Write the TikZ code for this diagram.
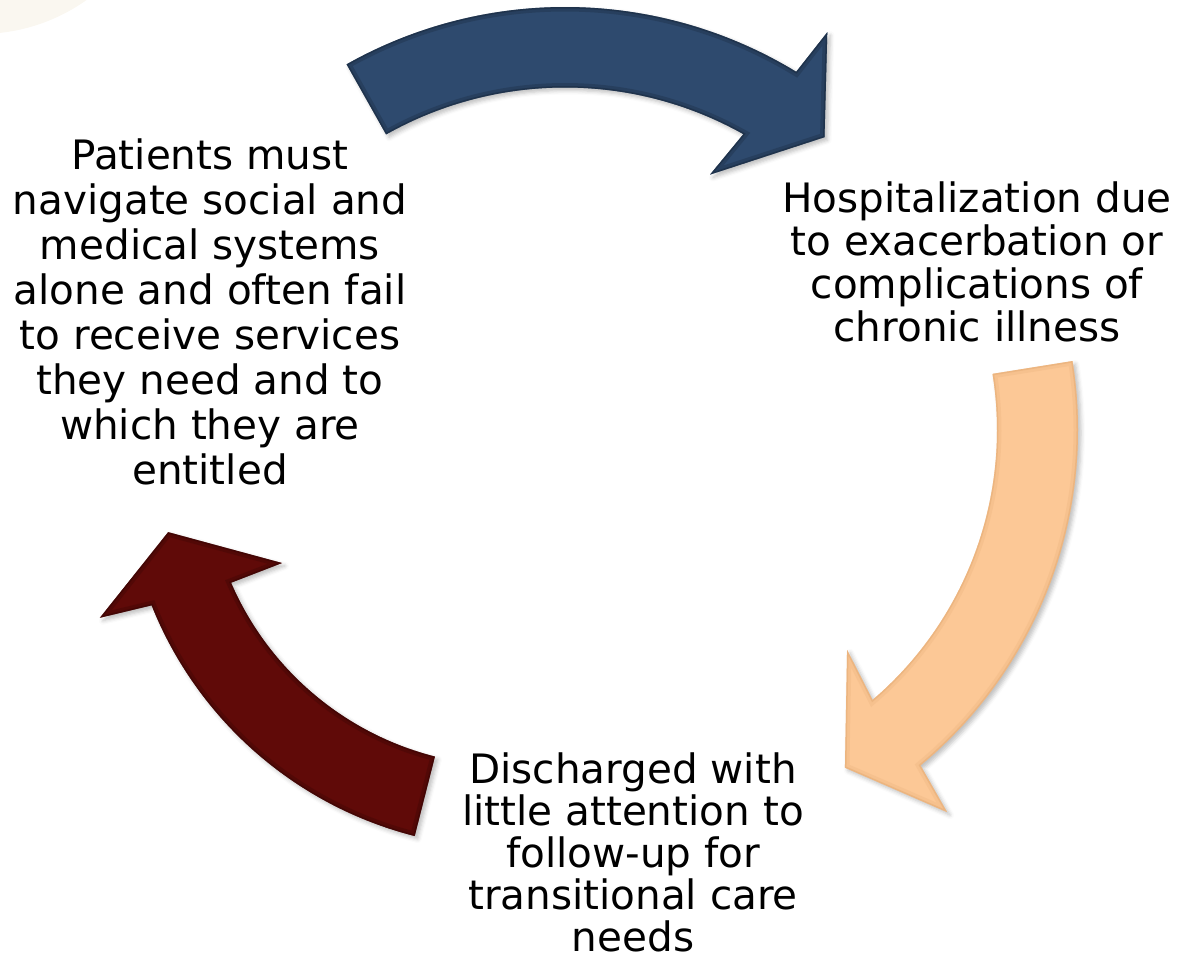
\documentclass[tikz,border=0pt]{standalone}
\usepackage{fontspec}
\setmainfont{DejaVu Sans}
\usetikzlibrary{calc,shadows.blur}

\definecolor{cycblue}{RGB}{46,74,110}
\definecolor{cycpeach}{RGB}{252,200,150}
\definecolor{cycmaroon}{RGB}{96,10,8}
\definecolor{halo}{RGB}{250,247,240}

\begin{document}
\begin{tikzpicture}[x=1pt,y=1pt,
  % anchor=base of a multi-line caption sits on its last line
  caption/.style={align=center, inner sep=0pt, anchor=base,
    font=\fontsize{40.5}{#1}\selectfont},
  caption/.default=43.5,
  arrowshadow/.style={blur shadow={shadow xshift=3pt, shadow yshift=-3pt,
    shadow blur radius=4pt, shadow opacity=25}},
  rim/.style={line width=9pt, opacity=0.35},
  rimthin/.style={line width=3pt, opacity=0.45}]
\useasboundingbox (0,0) rectangle (1180,965);

% faint disc in the corner
\fill[halo] (-20,1115) circle (184);

% ---- centres of the three arcs
\coordinate (cb) at (565,513);
\coordinate (cp) at (642,535);
\coordinate (cm) at (510,503);

% ---- top arrow (blue)
\coordinate (bTo) at ($(cb)+(119.4:445)$);
\coordinate (bBo) at ($(cb)+(58.0:495)$);
\coordinate (bTip) at ($(cb)+(50.5:408)$);
\coordinate (bBi) at ($(cb)+(62.4:313)$);
\coordinate (bJi) at ($(cb)+(60.7:364.5)$);
\def\bluepath{(bTo) arc[start angle=119.4, end angle=58.7, radius=445]
  -- (bBo) -- (bTip) -- (bBi) -- (bJi)
  arc[start angle=60.7, end angle=119.4, radius=364.5] -- cycle}

% ---- right arrow (peach)
\coordinate (pTo) at ($(cp)+(9.1:436)$);
\coordinate (pBo) at ($(cp)+(-51.4:489)$);
\coordinate (pTip) at ($(cp)+(-59:394)$);
\coordinate (pBi) at ($(cp)+(-47.0:300.7)$);
\coordinate (pJi) at ($(cp)+(-49.5:355)$);
\def\peachpath{(pTo) arc[start angle=9.1, end angle=-50.3, radius=436]
  -- (pBo) -- (pTip) -- (pBi) -- (pJi)
  arc[start angle=-49.5, end angle=9.1, radius=355] -- cycle}

% ---- left arrow (maroon)
\coordinate (mTo) at ($(cm)+(-104.3:386)$);
\coordinate (mBo) at ($(cm)+(-159.2:438.7)$);
\coordinate (mTip) at ($(cm)+(-168.4:349)$);
\coordinate (mBi) at ($(cm)+(-156.1:249.4)$);
\coordinate (mJi) at ($(cm)+(-156.6:304)$);
\def\maroonpath{(mTo) arc[start angle=-104.3, end angle=-158.2, radius=386]
  -- (mBo) -- (mTip) -- (mBi) -- (mJi)
  arc[start angle=-156.6, end angle=-104.3, radius=304] -- cycle}

% fills with shadow and bevelled rim
\fill[cycblue, arrowshadow] \bluepath;
\begin{scope}
  \clip \bluepath;
  \draw[rim, cycblue!60!black] \bluepath;
  \draw[rimthin, cycblue!50!black] \bluepath;
\end{scope}

\fill[cycpeach, arrowshadow] \peachpath;
\begin{scope}
  \clip \peachpath;
  \draw[rim, cycpeach!75!brown] \peachpath;
  \draw[rimthin, cycpeach!55!brown] \peachpath;
\end{scope}

\fill[cycmaroon, arrowshadow] \maroonpath;
\begin{scope}
  \clip \maroonpath;
  \draw[rim, cycmaroon!60!black] \maroonpath;
  \draw[rimthin, cycmaroon!50!black] \maroonpath;
\end{scope}

% ---- captions
\node[caption=45] (stepA) at (210,480) {Patients must\\navigate social and\\medical systems\\alone and often fail\\to receive services\\they need and to\\which they are\\entitled};
\node[caption=43] (stepB) at (977,623) {Hospitalization due\\to exacerbation or\\complications of\\chronic illness};
\node[caption=42] (stepC) at (633,13) {Discharged with\\little attention to\\follow-up for\\transitional care\\needs};
\end{tikzpicture}
\end{document}
